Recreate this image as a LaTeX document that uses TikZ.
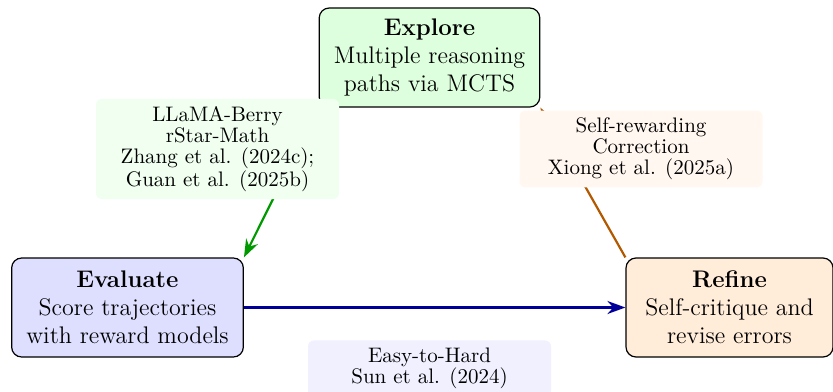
\documentclass[tikz,border=0pt]{standalone}
\usetikzlibrary{arrows.meta}
\tikzset{
  mainbox/.style={draw=black, line width=0.6pt, rounded corners=5pt, align=center,
    font=\large, inner xsep=7.3pt, inner ysep=4.5pt, minimum width=103.5pt, minimum height=49.5pt},
  citebox/.style={rounded corners=3pt, align=center, font=\fontsize{10.5}{10.4}\selectfont,
    inner ysep=3.8pt, minimum width=121.5pt},
  link/.style={line width=1.1pt, -{Stealth[length=9pt,width=6.5pt]}},
}
\begin{document}
\begin{tikzpicture}[x=1pt,y=1pt]
\useasboundingbox (0,0) rectangle (416.5,-195.5);
\node[mainbox, fill=green!13] (explore) at (214.75,-28.75) {\textbf{Explore}\\Multiple reasoning\\paths via MCTS};
\node[mainbox, fill=blue!13] (evaluate) at (63.75,-153.75) {\textbf{Evaluate}\\Score trajectories\\with reward models};
\node[mainbox, fill=orange!15] (refine) at (364.75,-153.75) {\textbf{Refine}\\Self-critique and\\revise errors};
\draw[link, green!60!black] (explore.south west) -- (evaluate.north east);
\draw[link, blue!60!black] (evaluate.east) -- (refine.west);
\draw[link, orange!70!black] (refine.north west) -- (explore.south east);
\node[citebox, fill=green!6] (c1) at (108.75,-74.5) {LLaMA-Berry\\rStar-Math\\Zhang et al. (2024c);\\Guan et al. (2025b)};
\node[citebox, fill=orange!6] (c2) at (320.5,-74.5) {Self-rewarding\\Correction\\Xiong et al. (2025a)};
\node[citebox, fill=blue!6, anchor=north] (c3) at (214.75,-170) {Easy-to-Hard\\Sun et al. (2024)};
\end{tikzpicture}
\end{document}
